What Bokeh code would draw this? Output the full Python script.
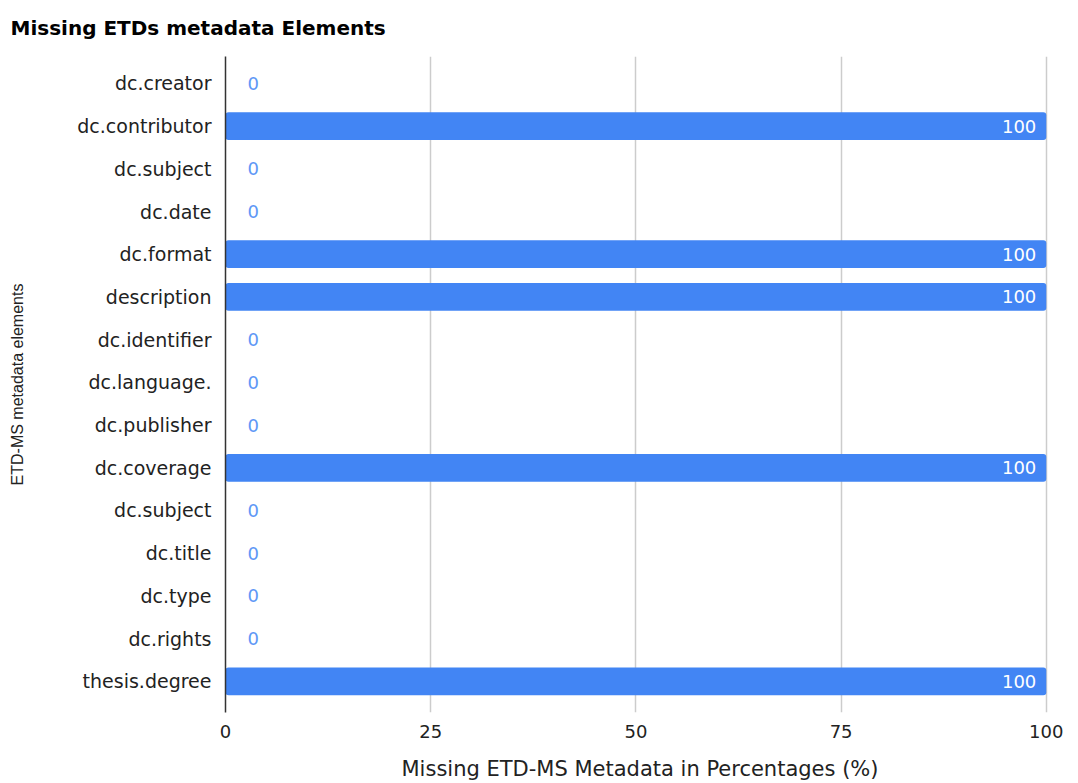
from bokeh.plotting import figure
from bokeh.models import Range1d, FixedTicker, ColumnDataSource
from bokeh.embed import file_html
from bokeh.resources import INLINE
from bokeh.core.properties import value

# ETD-MS metadata elements, top to bottom, and the share missing (%)
elements = [
    "dc.creator", "dc.contributor", "dc.subject", "dc.date", "dc.format",
    "description", "dc.identifier", "dc.language.", "dc.publisher",
    "dc.coverage", "dc.subject", "dc.title", "dc.type", "dc.rights",
    "thesis.degree",
]
missing_pct = [0, 100, 0, 0, 100, 100, 0, 0, 0, 100, 0, 0, 0, 0, 100]
x_ticks = [0, 25, 50, 75, 100]

BAR = "#4285f4"
FONT = "DejaVu Sans"
W, H = 1078, 783

rows = list(range(len(elements)))
src = ColumnDataSource(dict(row=rows, pct=missing_pct))
zero_src = ColumnDataSource(dict(
    row=[r for r, v in zip(rows, missing_pct) if v == 0],
    pct=[v for v in missing_pct if v == 0],
    txt=[str(v) for v in missing_pct if v == 0],
))
full_src = ColumnDataSource(dict(
    row=[r for r, v in zip(rows, missing_pct) if v > 0],
    pct=[v for v in missing_pct if v > 0],
    txt=[str(v) for v in missing_pct if v > 0],
))

p = figure(
    width=W, height=H,
    x_range=Range1d(0, 101),
    y_range=Range1d(len(elements) - 1 + 0.73, -0.63),
    output_backend="svg", toolbar_location=None,
    min_border_left=225, min_border_right=24,
    min_border_bottom=71, min_border_top=0,
)

p.title.text = "Missing ETDs metadata Elements"
p.title.text_font = FONT
p.title.text_font_size = "20px"
p.title.text_font_style = "bold"
p.title.text_color = "#000000"
p.title.align = "left"
p.title.vertical_align = "top"
p.title.offset = -215
p.title.standoff = 30

p.hbar(y="row", right="pct", left=0, height=0.65, source=src,
       fill_color=BAR, line_color=None, border_radius=3)

p.text(x="pct", y="row", text="txt", source=zero_src,
       x_offset=22, text_align="left", text_baseline="middle",
       text_font=value(FONT), text_font_size="18px", text_color="#5e97f6")
p.text(x="pct", y="row", text="txt", source=full_src,
       x_offset=-10, text_align="right", text_baseline="middle",
       text_font=value(FONT), text_font_size="18px", text_color="#ffffff")

# axes
p.xaxis.ticker = FixedTicker(ticks=x_ticks)
p.xaxis.axis_line_color = None
p.xaxis.major_tick_line_color = None
p.xaxis.minor_tick_line_color = None
p.xaxis.major_label_standoff = 6
p.xaxis.major_label_text_font = FONT
p.xaxis.major_label_text_font_size = "18px"
p.xaxis.major_label_text_color = "#222222"
p.xaxis.axis_label = "Missing ETD-MS Metadata in Percentages (%)"
p.xaxis.axis_label_text_font = FONT
p.xaxis.axis_label_text_font_size = "21px"
p.xaxis.axis_label_text_font_style = "normal"
p.xaxis.axis_label_text_color = "#222222"
p.xaxis.axis_label_standoff = 16

p.yaxis.ticker = FixedTicker(ticks=rows)
p.yaxis.major_label_overrides = {r: name for r, name in zip(rows, elements)}
p.yaxis.axis_line_color = "#333333"
p.yaxis.axis_line_width = 1.5
p.yaxis.major_tick_line_color = None
p.yaxis.minor_tick_line_color = None
p.yaxis.major_label_standoff = 8
p.yaxis.major_label_text_font = FONT
p.yaxis.major_label_text_font_size = "19px"
p.yaxis.major_label_text_color = "#222222"
p.yaxis.axis_label = "ETD-MS metadata elements"
p.yaxis.axis_label_text_font = "Liberation Sans"
p.yaxis.axis_label_text_font_size = "16px"
p.yaxis.axis_label_text_font_style = "normal"
p.yaxis.axis_label_text_color = "#222222"
p.yaxis.axis_label_standoff = 48

p.xgrid.ticker = FixedTicker(ticks=x_ticks)
p.xgrid.grid_line_color = "#cccccc"
p.xgrid.grid_line_width = 1.5
p.ygrid.grid_line_color = None
p.outline_line_color = None
p.background_fill_color = "#ffffff"
p.border_fill_color = "#ffffff"

open("out.html", "w").write(file_html(p, INLINE))
